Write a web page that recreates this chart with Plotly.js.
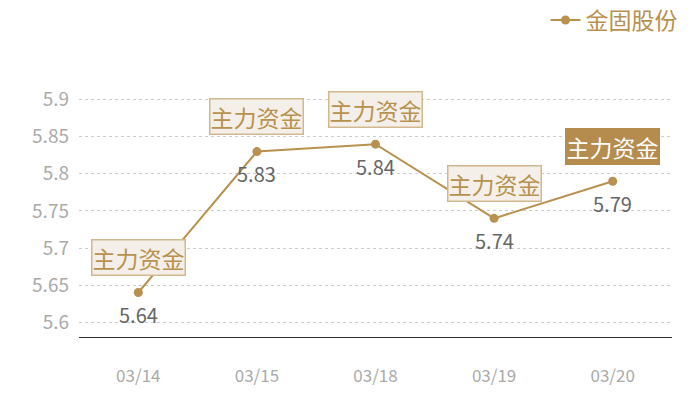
<!DOCTYPE html>
<html>
<head>
<meta charset="utf-8">
<script src="https://cdn.plot.ly/plotly-3.0.1.min.js"></script>
<style>
  html, body { margin: 0; padding: 0; background: #fff; }
  #chart { width: 700px; height: 400px; }
</style>
</head>
<body>
<div id="chart"></div>
<script>
// chart data
const dates = ["03/14", "03/15", "03/18", "03/19", "03/20"]
const prices = [5.64, 5.83, 5.84, 5.74, 5.79]
const seriesName = "金固股份"
const flagText = "主力资金"
// last flag is drawn filled, the others are light
const flagFilled = [false, false, false, false, true]
const yTicks = [5.6, 5.65, 5.7, 5.75, 5.8, 5.85, 5.9]

const gold = "#b8914f"
const font = "'Noto Sans CJK SC', 'Noto Sans', sans-serif"

const trace = {
    x: dates,
    y: prices,
    type: 'scatter',
    mode: 'lines+markers',
    name: seriesName,
    line: {color: gold, width: 2},
    marker: {color: gold, size: 9},
    cliponaxis: false
}

// flags above the points
const flags = dates.map((d, i) => ({
    x: d,
    y: prices[i],
    xref: 'x',
    yref: 'y',
    text: flagText,
    showarrow: false,
    yshift: 35,
    font: {family: font, size: 23, color: flagFilled[i] ? '#fff' : gold},
    bgcolor: flagFilled[i] ? '#b58c4e' : '#f4efe8',
    bordercolor: flagFilled[i] ? '#b58c4e' : '#d2b88e',
    borderwidth: 1.5,
    borderpad: 0
}))

// value labels under the points
const valueLabels = dates.map((d, i) => ({
    x: d,
    y: prices[i],
    xref: 'x',
    yref: 'y',
    text: prices[i].toFixed(2),
    showarrow: false,
    yshift: -22,
    font: {family: font, size: 20, color: '#666'}
}))

const layout = {
    width: 700,
    height: 400,
    margin: {l: 79, r: 28, t: 70, b: 63, autoexpand: false},
    paper_bgcolor: '#fff',
    plot_bgcolor: '#fff',
    font: {family: font},
    showlegend: true,
    legend: {
        xref: 'container', yref: 'container',
        x: 0.975, xanchor: 'right',
        y: 0.95, yanchor: 'middle',
        font: {family: font, size: 23, color: gold},
        itemwidth: 30,
        bgcolor: 'rgba(0,0,0,0)'
    },
    xaxis: {
        type: 'category',
        range: [-0.5, 4.5],
        showgrid: false,
        showline: true,
        linecolor: '#333',
        linewidth: 1,
        ticks: '',
        ticklabelstandoff: 24,
        tickfont: {family: font, size: 17, color: '#aaa'},
        zeroline: false,
        fixedrange: true
    },
    yaxis: {
        range: [5.58, 5.94],
        tickvals: yTicks,
        ticktext: yTicks.map((v) => String(v)),
        showgrid: true,
        gridcolor: '#ccc',
        griddash: 'dot',
        gridwidth: 1,
        showline: false,
        zeroline: false,
        ticks: '',
        ticklabelstandoff: 9,
        tickfont: {family: font, size: 19, color: '#aaa'},
        fixedrange: true
    },
    annotations: flags.concat(valueLabels)
}

Plotly.newPlot('chart', [trace], layout, {displayModeBar: false, staticPlot: true})
</script>
</body>
</html>
